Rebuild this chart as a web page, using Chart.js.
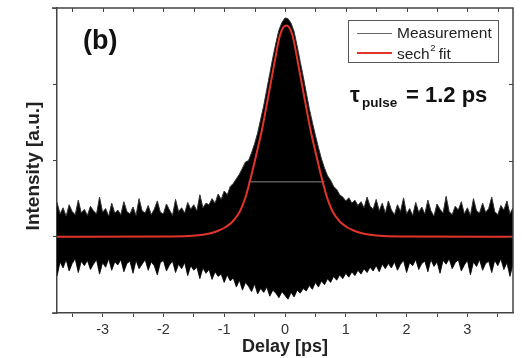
<!DOCTYPE html>
<html>
<head>
<meta charset="utf-8">
<script src="https://cdn.jsdelivr.net/npm/chart.js@4.4.1/dist/chart.umd.min.js"></script>
<style>
  html, body { margin: 0; padding: 0; background: #fff; }
  #wrap { width: 522px; height: 358px; position: relative; }
</style>
</head>
<body>
<div id="wrap"><canvas id="chart"></canvas></div>
<script>
// Autocorrelation trace, delay in ps, intensity in a.u. (baseline = 0)
// Measurement is drawn as the band between its upper and lower noise envelope,
// sampled every 0.05 ps from -3.75 to 3.75 ps.
const measStart = -3.75;
const measStep = 0.05;
const measUpper = [
  0.45, 0.30, 0.38, 0.27, 0.42, 0.33, 0.29, 0.48, 0.31, 0.36,
  0.28, 0.40, 0.34, 0.30, 0.52, 0.32, 0.37, 0.27, 0.44, 0.31,
  0.35, 0.29, 0.46, 0.33, 0.30, 0.39, 0.28, 0.50, 0.34, 0.31,
  0.41, 0.29, 0.36, 0.47, 0.32, 0.30, 0.43, 0.35, 0.28, 0.49,
  0.33, 0.38, 0.31, 0.45, 0.36, 0.42, 0.34, 0.55, 0.38, 0.44,
  0.42, 0.50, 0.44, 0.56, 0.49, 0.60, 0.55, 0.66, 0.70, 0.76,
  0.82, 0.90, 0.98, 1.00, 1.10, 1.22, 1.36, 1.54, 1.72, 1.93,
  2.14, 2.35, 2.54, 2.71, 2.81, 2.87, 2.86, 2.80, 2.69, 2.50,
  2.30, 2.10, 1.89, 1.68, 1.50, 1.33, 1.17, 1.02, 0.90, 0.80,
  0.74, 0.66, 0.62, 0.55, 0.52, 0.47, 0.51, 0.44, 0.48, 0.41,
  0.46, 0.38, 0.52, 0.40, 0.36, 0.49, 0.34, 0.44, 0.31, 0.47,
  0.35, 0.29, 0.42, 0.33, 0.51, 0.30, 0.37, 0.28, 0.45, 0.32,
  0.39, 0.30, 0.48, 0.34, 0.27, 0.43, 0.36, 0.31, 0.53, 0.33,
  0.29, 0.40, 0.35, 0.46, 0.30, 0.38, 0.28, 0.50, 0.34, 0.31,
  0.44, 0.32, 0.37, 0.52, 0.33, 0.29, 0.41, 0.35, 0.47, 0.30, 0.38
];
const measLower = [
  -0.52, -0.33, -0.41, -0.30, -0.45, -0.35, -0.29, -0.47, -0.32, -0.38,
  -0.31, -0.43, -0.36, -0.30, -0.49, -0.34, -0.40, -0.29, -0.44, -0.33,
  -0.37, -0.30, -0.46, -0.35, -0.32, -0.48, -0.31, -0.42, -0.36, -0.30,
  -0.44, -0.33, -0.38, -0.50, -0.34, -0.31, -0.45, -0.37, -0.32, -0.47,
  -0.36, -0.42, -0.34, -0.51, -0.38, -0.44, -0.40, -0.55, -0.41, -0.48,
  -0.43, -0.56, -0.46, -0.52, -0.49, -0.60, -0.50, -0.58, -0.54, -0.66,
  -0.57, -0.70, -0.60, -0.65, -0.72, -0.62, -0.75, -0.68, -0.73, -0.66,
  -0.78, -0.70, -0.74, -0.80, -0.72, -0.77, -0.82, -0.73, -0.79, -0.70,
  -0.74, -0.68, -0.71, -0.64, -0.69, -0.60, -0.66, -0.58, -0.63, -0.55,
  -0.60, -0.52, -0.57, -0.50, -0.55, -0.48, -0.53, -0.46, -0.51, -0.44,
  -0.49, -0.42, -0.47, -0.40, -0.45, -0.38, -0.46, -0.36, -0.42, -0.35,
  -0.41, -0.33, -0.44, -0.36, -0.31, -0.47, -0.34, -0.38, -0.30, -0.43,
  -0.35, -0.32, -0.46, -0.30, -0.39, -0.33, -0.48, -0.31, -0.36, -0.29,
  -0.42, -0.34, -0.30, -0.45, -0.37, -0.31, -0.50, -0.33, -0.39, -0.30,
  -0.44, -0.35, -0.32, -0.47, -0.31, -0.38, -0.29, -0.43, -0.34, -0.52, -0.36
];

// sech^2 fit
const fitDelays = [
  -3.75, -1.98, -1.58, -1.38, -1.28, -1.18, -1.08, -0.98, -0.86, -0.75,
  -0.68, -0.63, -0.58, -0.53, -0.48, -0.38, -0.28, -0.18, -0.08, 0.02,
  0.12, 0.22, 0.32, 0.42, 0.52, 0.57, 0.62, 0.67, 0.72, 0.79,
  0.90, 1.02, 1.12, 1.22, 1.32, 1.42, 1.62, 2.02, 3.75
];
const fitValues = [
  0, 0.003, 0.01, 0.022, 0.035, 0.055, 0.085, 0.125, 0.2, 0.32,
  0.45, 0.57, 0.72, 0.88, 1.05, 1.40, 1.82, 2.25, 2.65, 2.77,
  2.65, 2.25, 1.82, 1.40, 1.05, 0.88, 0.72, 0.57, 0.45, 0.32,
  0.2, 0.125, 0.085, 0.055, 0.035, 0.022, 0.01, 0.003, 0
];

// thin grey width marker across the peak
const markDelays = [-0.60, 0.65];
const markLevel = 0.72;

const xTicks = [-3.5, -3, -2.5, -2, -1.5, -1, -0.5, 0, 0.5, 1, 1.5, 2, 2.5, 3, 3.5];
const xLabels = [-3, -2, -1, 0, 1, 2, 3];
const yTicks = [-1, 0, 1, 2, 3];

const AXIS = '#444';
const RED = '#e3342c';
const FONT = "'Liberation Sans', Arial, sans-serif";

const measDelays = measUpper.map((_, i) => measStart + i * measStep);
const upperPts = measDelays.map((d, i) => ({ x: d, y: measUpper[i] }));
const lowerPts = measDelays.map((d, i) => ({ x: d, y: measLower[i] }));
const fitPts = fitDelays.map((d, i) => ({ x: d, y: fitValues[i] }));
const markPts = markDelays.map(d => ({ x: d, y: markLevel }));

const overlay = {
  id: 'overlay',
  afterDraw(chart) {
    const { ctx, chartArea: a, scales: { x, y } } = chart;
    ctx.save();

    // top and right frame, bottom/top lines run a little past the left axis
    ctx.strokeStyle = AXIS;
    ctx.lineWidth = 1.5;
    ctx.beginPath();
    ctx.moveTo(a.left - 5, a.top);
    ctx.lineTo(a.right, a.top);
    ctx.lineTo(a.right, a.bottom);
    ctx.moveTo(a.left - 5, a.bottom);
    ctx.lineTo(a.left, a.bottom);
    ctx.stroke();

    // inward ticks on top and right
    ctx.lineWidth = 1;
    ctx.beginPath();
    xTicks.forEach(v => {
      const px = Math.round(x.getPixelForValue(v)) + 0.5;
      ctx.moveTo(px, a.top);
      ctx.lineTo(px, a.top + 4);
    });
    yTicks.forEach(v => {
      if (v <= y.min || v >= y.max) return;
      const py = Math.round(y.getPixelForValue(v)) + 0.5;
      ctx.moveTo(a.right, py);
      ctx.lineTo(a.right - 4, py);
    });
    ctx.stroke();

    // x tick labels on whole picoseconds
    ctx.fillStyle = '#333';
    ctx.font = '14.5px ' + FONT;
    ctx.textAlign = 'center';
    ctx.textBaseline = 'middle';
    xLabels.forEach(v => {
      ctx.fillText(String(v), x.getPixelForValue(v), a.bottom + 17);
    });

    // y axis title, sits a bit below the plot centre in the original
    ctx.save();
    ctx.translate(34, 166);
    ctx.rotate(-Math.PI / 2);
    ctx.fillStyle = '#222';
    ctx.font = 'bold 19px ' + FONT;
    ctx.fillText('Intensity [a.u.]', 0, 0);
    ctx.restore();
    ctx.textAlign = 'left';

    // panel label
    ctx.fillStyle = '#111';
    ctx.textBaseline = 'alphabetic';
    ctx.font = 'bold 27px ' + FONT;
    ctx.fillText('(b)', 83, 49);

    // legend box
    ctx.strokeStyle = '#555';
    ctx.lineWidth = 1;
    ctx.strokeRect(348.5, 20.5, 150, 42);
    ctx.strokeStyle = '#666';
    ctx.beginPath();
    ctx.moveTo(357, 33.5);
    ctx.lineTo(392, 33.5);
    ctx.stroke();
    ctx.strokeStyle = RED;
    ctx.lineWidth = 2;
    ctx.beginPath();
    ctx.moveTo(357, 53);
    ctx.lineTo(392, 53);
    ctx.stroke();
    ctx.fillStyle = '#222';
    ctx.font = '15.5px ' + FONT;
    ctx.fillText('Measurement', 397, 38);
    ctx.fillText('sech', 397, 58.5);
    const w = ctx.measureText('sech').width;
    ctx.font = '9.5px ' + FONT;
    ctx.fillText('2', 397 + w + 0.5, 51);
    ctx.font = '15.5px ' + FONT;
    ctx.fillText('fit', 397 + w + 9, 58.5);

    // pulse width annotation
    ctx.fillStyle = '#111';
    ctx.font = 'bold 22px ' + FONT;
    ctx.fillText('\u03c4', 350, 102);
    ctx.font = 'bold 13.5px ' + FONT;
    ctx.fillText('pulse', 362, 107);
    ctx.font = 'bold 22px ' + FONT;
    ctx.fillText('= 1.2 ps', 406, 102);

    ctx.restore();
  }
};

new Chart(document.getElementById('chart'), {
  type: 'line',
  data: {
    datasets: [
      { label: 'sech\u00b2 fit', data: fitPts, borderColor: RED, borderWidth: 2, pointRadius: 0,
        cubicInterpolationMode: 'monotone', fill: false, order: 0 },
      { label: 'marker', data: markPts, borderColor: '#8a8a8a', borderWidth: 1, pointRadius: 0,
        fill: false, order: 1 },
      { label: 'Measurement', data: upperPts, borderColor: '#333', borderWidth: 1, pointRadius: 0,
        backgroundColor: '#000', fill: '+1', order: 2 },
      { label: 'lower', data: lowerPts, borderColor: '#333', borderWidth: 1, pointRadius: 0,
        fill: false, order: 3 }
    ]
  },
  options: {
    responsive: true,
    maintainAspectRatio: false,
    animation: false,
    layout: { padding: { top: 8, right: 9, left: 0, bottom: 0 } },
    plugins: { legend: { display: false }, tooltip: { enabled: false } },
    scales: {
      x: {
        type: 'linear',
        min: -3.75,
        max: 3.75,
        afterFit(scale) { scale.height = 45; },
        afterBuildTicks(scale) { scale.ticks = xTicks.map(v => ({ value: v })); },
        border: { display: true, color: AXIS, width: 1.5 },
        grid: { drawOnChartArea: false, drawTicks: true, tickLength: 4, color: AXIS },
        ticks: { display: false },
        title: {
          display: true,
          text: 'Delay [ps]',
          color: '#222',
          font: { family: FONT, size: 18, weight: 'bold' },
          padding: { top: 0, bottom: 0 }
        }
      },
      y: {
        type: 'linear',
        min: yTicks[0],
        max: yTicks[yTicks.length - 1],
        afterFit(scale) { scale.width = 57; },
        afterBuildTicks(scale) { scale.ticks = yTicks.map(v => ({ value: v })); },
        border: { display: true, color: AXIS, width: 1.5 },
        grid: { drawOnChartArea: false, drawTicks: true, tickLength: 4, color: AXIS },
        ticks: { display: false },
        title: { display: false }
      }
    }
  },
  plugins: [overlay]
});
</script>
</body>
</html>
